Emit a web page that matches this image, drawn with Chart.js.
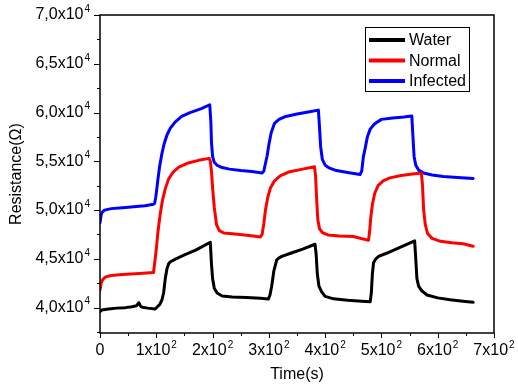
<!DOCTYPE html>
<html>
<head>
<meta charset="utf-8">
<script src="https://cdn.jsdelivr.net/npm/chart.js@4/dist/chart.umd.min.js"></script>
<style>
  html,body{margin:0;padding:0;background:#fff;}
  #chart{display:block;}
</style>
</head>
<body>
<canvas id="chart" width="518" height="389"></canvas>
<script>
// time (s) and resistance (ohm) for each sample
const waterT=[0,3,15,30,45,57,65,69,72,75,85,98,102,106,110,113,116,119,122,125,135,150,170,196,198,200,203,208,217,235,260,285,299,302,305,309,314,318,323,340,360,382,384,386,389,394,400,415,440,465,480,482,484,486,490,495,510,530,559,561,563,566,572,581,600,622,645,663];
const waterR=[39600,39750,39850,39950,40000,40100,40200,40500,40150,40050,39950,39850,40100,40300,40800,41500,43000,44000,44500,44700,45000,45400,45900,46700,44500,43000,42000,41500,41200,41100,41050,40950,40880,41300,42200,43800,44900,45100,45250,45600,46000,46500,45500,43500,42200,41600,41150,40900,40750,40650,40600,41500,43500,44600,45000,45250,45600,46100,46850,45000,43000,42200,41700,41300,41000,40800,40650,40550];

const normalT=[0,2,5,10,20,40,70,95,97,100,103,107,111,116,122,130,140,155,175,194,196,198,200,203,207,212,220,240,265,285,288,291,294,298,303,310,320,335,360,381,383,385,387,390,395,405,425,450,477,479,481,484,488,494,503,515,535,555,571,573,575,578,582,590,605,625,645,663];
const normalR=[41800,42500,42900,43150,43300,43400,43500,43600,44500,46000,47800,49600,51000,52200,53200,53900,54400,54800,55100,55300,55000,54000,52300,50300,48500,47900,47650,47550,47400,47250,47500,48600,50000,51300,52300,53000,53500,53900,54200,54450,53500,51000,49000,48100,47700,47450,47350,47300,46900,47800,49200,50600,51700,52500,53000,53300,53550,53700,53800,52500,50000,48500,47600,47100,46800,46650,46550,46300];

const infectedT=[0,2,4,8,20,40,60,80,95,97,99,101,103,106,110,114,119,125,133,145,160,180,195,197,198,200,203,208,215,230,250,270,288,291,294,297,300,304,310,318,330,350,370,388,390,392,395,400,408,420,440,462,465,468,471,475,480,488,500,520,540,554,556,558,561,566,575,590,610,635,663];
const infectedR=[48700,49500,49800,50000,50150,50250,50350,50450,50600,50700,51300,52200,53200,54500,55800,56800,57700,58400,59000,59600,60000,60400,60800,59000,57000,55500,54900,54600,54400,54200,54050,53950,53800,54000,54800,55600,56700,57900,58900,59300,59600,59850,60050,60250,58500,56500,55200,54600,54300,54050,53850,53650,54000,55500,56300,57500,58300,58850,59300,59450,59550,59650,57500,55500,54600,54100,53800,53600,53450,53350,53250];

const xTicks=[0,100,200,300,400,500,600,700];
const xMinor=[50,150,250,350,450,550,650];
const yTicks=[40000,45000,50000,55000,60000,65000,70000];
const yMinor=[37500,42500,47500,52500,57500,62500,67500];

const FONT='"Liberation Sans", Arial, sans-serif';

const pts=(t,r)=>t.map((v,i)=>({x:v,y:r[i]}));

// text like 5,0x10^4 with a raised exponent
function supText(ctx,base,sup,x,y,align){
  ctx.font='16px '+FONT;
  const bw=ctx.measureText(base).width;
  ctx.font='10px '+FONT;
  const sw=sup?ctx.measureText(sup).width+1:0;
  const w=bw+sw;
  let x0=x;
  if(align==='right') x0=x-w;
  else if(align==='center') x0=x-w/2;
  ctx.textAlign='left';
  ctx.textBaseline='middle';
  ctx.font='16px '+FONT;
  ctx.fillText(base,x0,y);
  if(sup){
    ctx.font='10px '+FONT;
    ctx.fillText(sup,x0+bw+1,y-6);
  }
}

const axesPlugin={
  id:'axesPlugin',
  afterDraw(chart){
    const {ctx,chartArea:a,scales:{x,y}}=chart;
    ctx.save();
    ctx.strokeStyle='#000';
    ctx.fillStyle='#000';
    ctx.lineWidth=1.5;
    ctx.strokeRect(a.left,a.top,a.right-a.left,a.bottom-a.top);

    ctx.lineWidth=1;
    ctx.beginPath();
    yTicks.forEach(v=>{const p=Math.round(y.getPixelForValue(v))+.5;ctx.moveTo(a.left-6,p);ctx.lineTo(a.left,p);});
    yMinor.forEach(v=>{const p=Math.round(y.getPixelForValue(v))+.5;ctx.moveTo(a.left-3,p);ctx.lineTo(a.left,p);});
    xTicks.forEach(v=>{const p=Math.round(x.getPixelForValue(v))+.5;ctx.moveTo(p,a.bottom);ctx.lineTo(p,a.bottom+5);});
    xMinor.forEach(v=>{const p=Math.round(x.getPixelForValue(v))+.5;ctx.moveTo(p,a.bottom);ctx.lineTo(p,a.bottom+3);});
    ctx.stroke();

    yTicks.forEach(v=>{
      supText(ctx,(v/10000).toFixed(1).replace('.',',')+'x10','4',a.left-10,y.getPixelForValue(v),'right');
    });
    xTicks.forEach(v=>{
      if(v===0) supText(ctx,'0','',x.getPixelForValue(v),a.bottom+18,'center');
      else supText(ctx,(v/100)+'x10','2',x.getPixelForValue(v),a.bottom+18,'center');
    });

    // axis titles
    ctx.font='16px '+FONT;
    ctx.textAlign='center';
    ctx.textBaseline='middle';
    ctx.fillText('Time(s)',(a.left+a.right)/2,a.bottom+42);
    ctx.save();
    ctx.translate(17,(a.top+a.bottom)/2);
    ctx.rotate(-Math.PI/2);
    ctx.fillText('Resistance(\u03A9)',0,0);
    ctx.restore();

    // legend box
    const lx=a.right-129, ly=a.top+12, lw=104, lh=64;
    ctx.fillStyle='#fff';
    ctx.fillRect(lx,ly,lw,lh);
    ctx.lineWidth=1;
    ctx.strokeStyle='#000';
    ctx.strokeRect(lx+.5,ly+.5,lw,lh);
    chart.data.datasets.forEach((d,i)=>{
      const cy=ly+13+i*20.5;
      ctx.strokeStyle=d.borderColor;
      ctx.lineWidth=4;
      ctx.beginPath();
      ctx.moveTo(lx+4,cy);ctx.lineTo(lx+40,cy);
      ctx.stroke();
      ctx.fillStyle='#000';
      ctx.font='16px '+FONT;
      ctx.textAlign='left';
      ctx.fillText(d.label,lx+44,cy+1);
    });
    ctx.restore();
  }
};

const line=(label,data,color)=>({
  label,data,borderColor:color,backgroundColor:color,
  borderWidth:3,pointRadius:0,tension:0,fill:false,
  borderJoinStyle:'round',borderCapStyle:'round'
});

new Chart(document.getElementById('chart'),{
  type:'line',
  data:{datasets:[
    line('Water',pts(waterT,waterR),'#000000'),
    line('Normal',pts(normalT,normalR),'#ff0000'),
    line('Infected',pts(infectedT,infectedR),'#0000ff')
  ]},
  options:{
    responsive:false,
    animation:false,
    layout:{padding:{top:15,right:24,left:0,bottom:0}},
    plugins:{legend:{display:false},tooltip:{enabled:false}},
    scales:{
      x:{type:'linear',min:0,max:700,
        ticks:{display:false},grid:{display:false},border:{display:false},
        afterFit:s=>{s.height=56;}},
      y:{type:'linear',min:37400,max:70000,
        ticks:{display:false},grid:{display:false},border:{display:false},
        afterFit:s=>{s.width=100;}}
    }
  },
  plugins:[axesPlugin]
});
</script>
</body>
</html>
